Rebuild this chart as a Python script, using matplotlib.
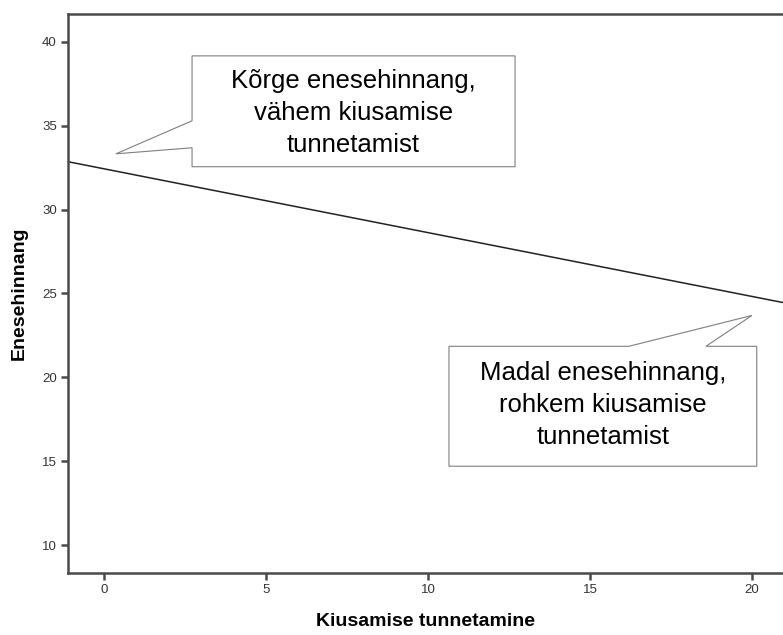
import numpy as np
import matplotlib.pyplot as plt
from matplotlib.patches import Polygon

plt.rcParams['font.family'] = ['Liberation Sans', 'DejaVu Sans']

# regression line end points
line_x = [-1.11, 20.96]
line_y = [32.86, 24.46]

x_ticks = [0, 5, 10, 15, 20]
y_ticks = [10, 15, 20, 25, 30, 35, 40]

callout_high = "Kõrge enesehinnang,\nvähem kiusamise\ntunnetamist"
callout_low = "Madal enesehinnang,\nrohkem kiusamise\ntunnetamist"

spine_col = '#4a4a4a'

fig = plt.figure(figsize=(7.83, 6.35), dpi=100)
ax = fig.add_axes([0.0868, 0.0976, 0.9132, 0.8804])

ax.plot(line_x, line_y, color='#222222', lw=1.1)
ax.set_xlim(-1.11, 20.96)
ax.set_ylim(8.33, 41.67)

ax.set_xticks(x_ticks)
ax.set_yticks(y_ticks)
ax.tick_params(direction='out', length=5, width=1.8, color=spine_col,
               labelsize=9.5, labelcolor='#333333', pad=3)

for side in ['left', 'bottom', 'top']:
    ax.spines[side].set_color(spine_col)
    ax.spines[side].set_linewidth(1.8)
ax.spines['right'].set_visible(False)

ax.set_xlabel('Kiusamise tunnetamine', fontsize=14, fontweight='bold', labelpad=12)
ax.set_ylabel('Enesehinnang', fontsize=14, fontweight='bold', labelpad=10)

# callout 1: box with pointer on the left edge
l, r, t, b = 2.72, 12.69, 39.17, 32.56
box1 = [(l, t), (r, t), (r, b), (l, b), (l, 33.69), (0.37, 33.33), (l, 35.30)]
ax.add_patch(Polygon(box1, closed=True, facecolor='white', edgecolor='#7f7f7f', lw=0.8))
ax.text((l + r) / 2, 35.77, callout_high, ha='center', va='center', fontsize=18.5,
        linespacing=1.42)

# callout 2: box with pointer on the top edge
l, r, t, b = 10.65, 20.15, 21.85, 14.70
box2 = [(l, t), (16.20, t), (20.0, 23.69), (18.58, t), (r, t), (r, b), (l, b)]
ax.add_patch(Polygon(box2, closed=True, facecolor='white', edgecolor='#7f7f7f', lw=0.8))
ax.text((l + r) / 2, 18.33, callout_low, ha='center', va='center', fontsize=18.5,
        linespacing=1.42)

fig.savefig('out.png', dpi=100)
